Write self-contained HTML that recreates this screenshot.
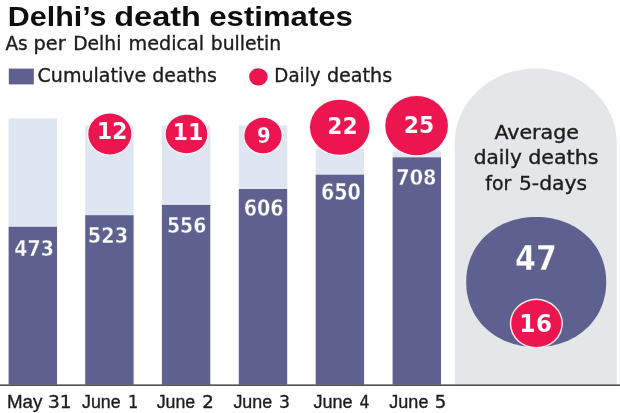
<!DOCTYPE html>
<html><head><meta charset="utf-8"><title>Delhi's death estimates</title>
<style>html,body{margin:0;padding:0;background:#fff;width:620px;height:413px;overflow:hidden}svg{display:block}</style>
</head><body>
<svg width="620" height="413" viewBox="0 0 620 413">
<rect x="0" y="0" width="620" height="413" fill="#ffffff"/>
<path d="M454.7,384.6 L454.7,142.7 A81.05,74.3 0 0 1 616.8,142.7 L616.8,384.6 Z" fill="#e5e6e8"/>
<rect x="8.6" y="118.4" width="48.4" height="108.40" fill="#dfe6f1"/>
<rect x="8.6" y="226.8" width="48.4" height="157.80" fill="#5e618f"/>
<rect x="85.2" y="125.5" width="48.4" height="89.70" fill="#dfe6f1"/>
<rect x="85.2" y="215.2" width="48.4" height="169.40" fill="#5e618f"/>
<rect x="161.9" y="125.5" width="48.4" height="79.40" fill="#dfe6f1"/>
<rect x="161.9" y="204.9" width="48.4" height="179.70" fill="#5e618f"/>
<rect x="238.8" y="125.5" width="48.4" height="63.50" fill="#dfe6f1"/>
<rect x="238.8" y="189.0" width="48.4" height="195.60" fill="#5e618f"/>
<rect x="315.7" y="148.5" width="48.4" height="26.20" fill="#dfe6f1"/>
<rect x="315.7" y="174.7" width="48.4" height="209.90" fill="#5e618f"/>
<rect x="392.6" y="151.5" width="48.4" height="5.80" fill="#dfe6f1"/>
<rect x="392.6" y="157.3" width="48.4" height="227.30" fill="#5e618f"/>
<rect x="0" y="384.4" width="620" height="1.5" fill="#444444"/>
<ellipse cx="109.8" cy="133.95" rx="22.7" ry="21.65" fill="#fff4f7"/>
<ellipse cx="109.8" cy="133.95" rx="21.5" ry="20.45" fill="#ec154f"/>
<ellipse cx="186.5" cy="134.0" rx="22.0" ry="20.5" fill="#fff4f7"/>
<ellipse cx="186.5" cy="134.0" rx="20.8" ry="19.3" fill="#ec154f"/>
<ellipse cx="263.0" cy="135.55" rx="19.8" ry="18.95" fill="#fff4f7"/>
<ellipse cx="263.0" cy="135.55" rx="18.6" ry="17.75" fill="#ec154f"/>
<ellipse cx="339.75" cy="127.25" rx="30.95" ry="28.75" fill="#fff4f7"/>
<ellipse cx="339.75" cy="127.25" rx="29.75" ry="27.55" fill="#ec154f"/>
<ellipse cx="416.6" cy="125.7" rx="32.5" ry="30.8" fill="#fff4f7"/>
<ellipse cx="416.6" cy="125.7" rx="31.3" ry="29.6" fill="#ec154f"/>
<path d="M606.20,282.00 L606.11,285.81 L605.83,289.41 L605.37,292.92 L604.73,296.36 L603.91,299.72 L602.90,303.01 L601.72,306.23 L600.37,309.37 L598.85,312.42 L597.16,315.38 L595.31,318.24 L593.29,320.99 L591.13,323.64 L588.82,326.17 L586.36,328.58 L583.77,330.86 L581.04,333.01 L578.19,335.02 L575.23,336.88 L572.15,338.60 L568.96,340.17 L565.67,341.59 L562.30,342.84 L558.83,343.94 L555.28,344.87 L551.66,345.63 L547.96,346.23 L544.18,346.66 L540.30,346.91 L536.20,347.00 L532.10,346.91 L528.22,346.66 L524.44,346.23 L520.74,345.63 L517.12,344.87 L513.57,343.94 L510.10,342.84 L506.73,341.59 L503.44,340.17 L500.25,338.60 L497.17,336.88 L494.21,335.02 L491.36,333.01 L488.63,330.86 L486.04,328.58 L483.58,326.17 L481.27,323.64 L479.11,320.99 L477.09,318.24 L475.24,315.38 L473.55,312.42 L472.03,309.37 L470.68,306.23 L469.50,303.01 L468.49,299.72 L467.67,296.36 L467.03,292.92 L466.57,289.41 L466.29,285.81 L466.20,282.00 L466.29,278.19 L466.57,274.59 L467.03,271.08 L467.67,267.64 L468.49,264.28 L469.50,260.99 L470.68,257.77 L472.03,254.63 L473.55,251.58 L475.24,248.62 L477.09,245.76 L479.11,243.01 L481.27,240.36 L483.58,237.83 L486.04,235.42 L488.63,233.14 L491.36,230.99 L494.21,228.98 L497.17,227.12 L500.25,225.40 L503.44,223.83 L506.73,222.41 L510.10,221.16 L513.57,220.06 L517.12,219.13 L520.74,218.37 L524.44,217.77 L528.22,217.34 L532.10,217.09 L536.20,217.00 L540.30,217.09 L544.18,217.34 L547.96,217.77 L551.66,218.37 L555.28,219.13 L558.83,220.06 L562.30,221.16 L565.67,222.41 L568.96,223.83 L572.15,225.40 L575.23,227.12 L578.19,228.98 L581.04,230.99 L583.77,233.14 L586.36,235.42 L588.82,237.83 L591.13,240.36 L593.29,243.01 L595.31,245.76 L597.16,248.62 L598.85,251.58 L600.37,254.63 L601.72,257.77 L602.90,260.99 L603.91,264.28 L604.73,267.64 L605.37,271.08 L605.83,274.59 L606.11,278.19 Z" fill="#5e618f"/>
<ellipse cx="536.35" cy="323.6" rx="26.6" ry="25.0" fill="#fde3ea"/>
<ellipse cx="536.35" cy="323.6" rx="25.1" ry="23.5" fill="#ec154f"/>
<rect x="8.8" y="68.6" width="25" height="15.8" fill="#5e618f"/>
<ellipse cx="258.4" cy="76.8" rx="9.3" ry="8.6" fill="#ec154f"/>
<text transform="translate(7.83,25.90) scale(1.0670,1)" font-family='"Liberation Sans", Arial, sans-serif' font-weight="700" font-size="28.50" fill="#0e0e0e">Delhi’s</text>
<text transform="translate(114.26,25.90) scale(1.1399,1)" font-family='"Liberation Sans", Arial, sans-serif' font-weight="700" font-size="28.50" fill="#0e0e0e">death</text>
<text transform="translate(209.31,25.90) scale(1.0922,1)" font-family='"Liberation Sans", Arial, sans-serif' font-weight="700" font-size="28.50" fill="#0e0e0e">estimates</text>
<text transform="translate(5.40,49.80) scale(0.9865,1)" font-family='"DejaVu Sans", sans-serif' font-weight="400" font-size="18.71" fill="#1c1c1c" stroke="#1c1c1c" stroke-width="0.35">As</text>
<text transform="translate(33.47,49.80) scale(1.0336,1)" font-family='"DejaVu Sans", sans-serif' font-weight="400" font-size="18.71" fill="#1c1c1c" stroke="#1c1c1c" stroke-width="0.35">per</text>
<text transform="translate(73.20,49.80) scale(1.0009,1)" font-family='"DejaVu Sans", sans-serif' font-weight="400" font-size="18.71" fill="#1c1c1c" stroke="#1c1c1c" stroke-width="0.35">Delhi</text>
<text transform="translate(128.47,49.80) scale(1.0260,1)" font-family='"DejaVu Sans", sans-serif' font-weight="400" font-size="18.71" fill="#1c1c1c" stroke="#1c1c1c" stroke-width="0.35">medical</text>
<text transform="translate(210.80,49.80) scale(1.0036,1)" font-family='"DejaVu Sans", sans-serif' font-weight="400" font-size="18.71" fill="#1c1c1c" stroke="#1c1c1c" stroke-width="0.35">bulletin</text>
<text transform="translate(37.52,82.10) scale(0.9795,1)" font-family='"DejaVu Sans", sans-serif' font-weight="400" font-size="19.47" fill="#1c1c1c" stroke="#1c1c1c" stroke-width="0.35">Cumulative</text>
<text transform="translate(152.23,82.10) scale(0.9749,1)" font-family='"DejaVu Sans", sans-serif' font-weight="400" font-size="19.47" fill="#1c1c1c" stroke="#1c1c1c" stroke-width="0.35">deaths</text>
<text transform="translate(274.36,82.10) scale(0.9363,1)" font-family='"DejaVu Sans", sans-serif' font-weight="400" font-size="19.47" fill="#1c1c1c" stroke="#1c1c1c" stroke-width="0.35">Daily</text>
<text transform="translate(326.92,82.10) scale(0.9825,1)" font-family='"DejaVu Sans", sans-serif' font-weight="400" font-size="19.47" fill="#1c1c1c" stroke="#1c1c1c" stroke-width="0.35">deaths</text>
<text transform="translate(6.90,407.60) scale(0.9974,1)" font-family='"Liberation Sans", Arial, sans-serif' font-weight="400" font-size="18.80" fill="#1c1c1c" stroke="#1c1c1c" stroke-width="0.35">May</text>
<text transform="translate(47.96,407.60) scale(1.0411,1)" font-family='"DejaVu Sans", sans-serif' font-weight="400" font-size="17.86" fill="#1c1c1c" stroke="#1c1c1c" stroke-width="0.35">31</text>
<text transform="translate(82.10,407.60) scale(0.9459,1)" font-family='"Liberation Sans", Arial, sans-serif' font-weight="400" font-size="18.80" fill="#1c1c1c" stroke="#1c1c1c" stroke-width="0.35">June</text>
<text transform="translate(127.99,407.60) scale(0.9111,1)" font-family='"DejaVu Sans", sans-serif' font-weight="400" font-size="17.86" fill="#1c1c1c" stroke="#1c1c1c" stroke-width="0.35">1</text>
<text transform="translate(156.70,407.60) scale(0.9459,1)" font-family='"Liberation Sans", Arial, sans-serif' font-weight="400" font-size="18.80" fill="#1c1c1c" stroke="#1c1c1c" stroke-width="0.35">June</text>
<text transform="translate(202.19,407.60) scale(1.0111,1)" font-family='"DejaVu Sans", sans-serif' font-weight="400" font-size="17.86" fill="#1c1c1c" stroke="#1c1c1c" stroke-width="0.35">2</text>
<text transform="translate(233.40,407.60) scale(0.9533,1)" font-family='"Liberation Sans", Arial, sans-serif' font-weight="400" font-size="18.80" fill="#1c1c1c" stroke="#1c1c1c" stroke-width="0.35">June</text>
<text transform="translate(279.03,407.60) scale(0.9667,1)" font-family='"DejaVu Sans", sans-serif' font-weight="400" font-size="17.86" fill="#1c1c1c" stroke="#1c1c1c" stroke-width="0.35">3</text>
<text transform="translate(313.50,407.60) scale(0.9607,1)" font-family='"Liberation Sans", Arial, sans-serif' font-weight="400" font-size="18.80" fill="#1c1c1c" stroke="#1c1c1c" stroke-width="0.35">June</text>
<text transform="translate(359.40,407.60) scale(0.8818,1)" font-family='"DejaVu Sans", sans-serif' font-weight="400" font-size="17.86" fill="#1c1c1c" stroke="#1c1c1c" stroke-width="0.35">4</text>
<text transform="translate(389.30,407.60) scale(0.9607,1)" font-family='"Liberation Sans", Arial, sans-serif' font-weight="400" font-size="18.80" fill="#1c1c1c" stroke="#1c1c1c" stroke-width="0.35">June</text>
<text transform="translate(434.79,407.60) scale(1.0111,1)" font-family='"DejaVu Sans", sans-serif' font-weight="400" font-size="17.86" fill="#1c1c1c" stroke="#1c1c1c" stroke-width="0.35">5</text>
<text transform="translate(494.40,138.80) scale(1.0682,1)" font-family='"DejaVu Sans", sans-serif' font-weight="400" font-size="19.29" fill="#1c1c1c" stroke="#1c1c1c" stroke-width="0.35">Average</text>
<text transform="translate(473.66,164.40) scale(1.0416,1)" font-family='"DejaVu Sans", sans-serif' font-weight="400" font-size="19.29" fill="#1c1c1c" stroke="#1c1c1c" stroke-width="0.35">daily</text>
<text transform="translate(528.13,164.40) scale(1.0703,1)" font-family='"DejaVu Sans", sans-serif' font-weight="400" font-size="19.29" fill="#1c1c1c" stroke="#1c1c1c" stroke-width="0.35">deaths</text>
<text transform="translate(485.30,190.00) scale(0.9786,1)" font-family='"DejaVu Sans", sans-serif' font-weight="400" font-size="19.29" fill="#1c1c1c" stroke="#1c1c1c" stroke-width="0.35">for</text>
<text transform="translate(518.95,190.00) scale(1.0527,1)" font-family='"DejaVu Sans", sans-serif' font-weight="400" font-size="19.29" fill="#1c1c1c" stroke="#1c1c1c" stroke-width="0.35">5-days</text>
<text transform="translate(14.30,255.70) scale(0.8599,1)" font-family='"DejaVu Sans", sans-serif' font-weight="700" font-size="22.04" fill="#ffffff" stroke="#5e618f" stroke-width="0.4">473</text>
<text transform="translate(87.86,242.90) scale(0.9391,1)" font-family='"DejaVu Sans", sans-serif' font-weight="700" font-size="20.54" fill="#ffffff" stroke="#5e618f" stroke-width="0.4">523</text>
<text transform="translate(166.92,232.80) scale(0.8824,1)" font-family='"DejaVu Sans", sans-serif' font-weight="700" font-size="21.36" fill="#ffffff" stroke="#5e618f" stroke-width="0.4">556</text>
<text transform="translate(243.64,215.70) scale(0.8572,1)" font-family='"DejaVu Sans", sans-serif' font-weight="700" font-size="22.31" fill="#ffffff" stroke="#5e618f" stroke-width="0.4">606</text>
<text transform="translate(321.04,200.00) scale(0.8610,1)" font-family='"DejaVu Sans", sans-serif' font-weight="700" font-size="22.18" fill="#ffffff" stroke="#5e618f" stroke-width="0.4">650</text>
<text transform="translate(396.31,184.90) scale(0.8888,1)" font-family='"DejaVu Sans", sans-serif' font-weight="700" font-size="21.63" fill="#ffffff" stroke="#5e618f" stroke-width="0.4">708</text>
<text transform="translate(96.64,139.17) scale(0.9921,1)" font-family='"DejaVu Sans", sans-serif' font-weight="700" font-size="22.38" fill="#ffffff" stroke="#ec154f" stroke-width="0.15">12</text>
<text transform="translate(172.53,140.07) scale(0.9959,1)" font-family='"DejaVu Sans", sans-serif' font-weight="700" font-size="22.38" fill="#ffffff" stroke="#ec154f" stroke-width="0.15">11</text>
<text transform="translate(257.01,142.88) scale(0.9115,1)" font-family='"DejaVu Sans", sans-serif' font-weight="700" font-size="21.56" fill="#ffffff" stroke="#ec154f" stroke-width="0.15">9</text>
<text transform="translate(327.24,134.07) scale(0.9817,1)" font-family='"DejaVu Sans", sans-serif' font-weight="700" font-size="22.24" fill="#ffffff" stroke="#ec154f" stroke-width="0.15">22</text>
<text transform="translate(403.68,132.97) scale(0.9411,1)" font-family='"DejaVu Sans", sans-serif' font-weight="700" font-size="23.33" fill="#ffffff" stroke="#ec154f" stroke-width="0.15">25</text>
<text transform="translate(515.11,270.20) scale(0.8922,1)" font-family='"DejaVu Sans", sans-serif' font-weight="700" font-size="33.61" fill="#ffffff" stroke="#5e618f" stroke-width="0.4">47</text>
<text transform="translate(519.36,332.07) scale(0.9325,1)" font-family='"DejaVu Sans", sans-serif' font-weight="700" font-size="25.24" fill="#ffffff" stroke="#ec154f" stroke-width="0.15">16</text>
</svg>
</body></html>
